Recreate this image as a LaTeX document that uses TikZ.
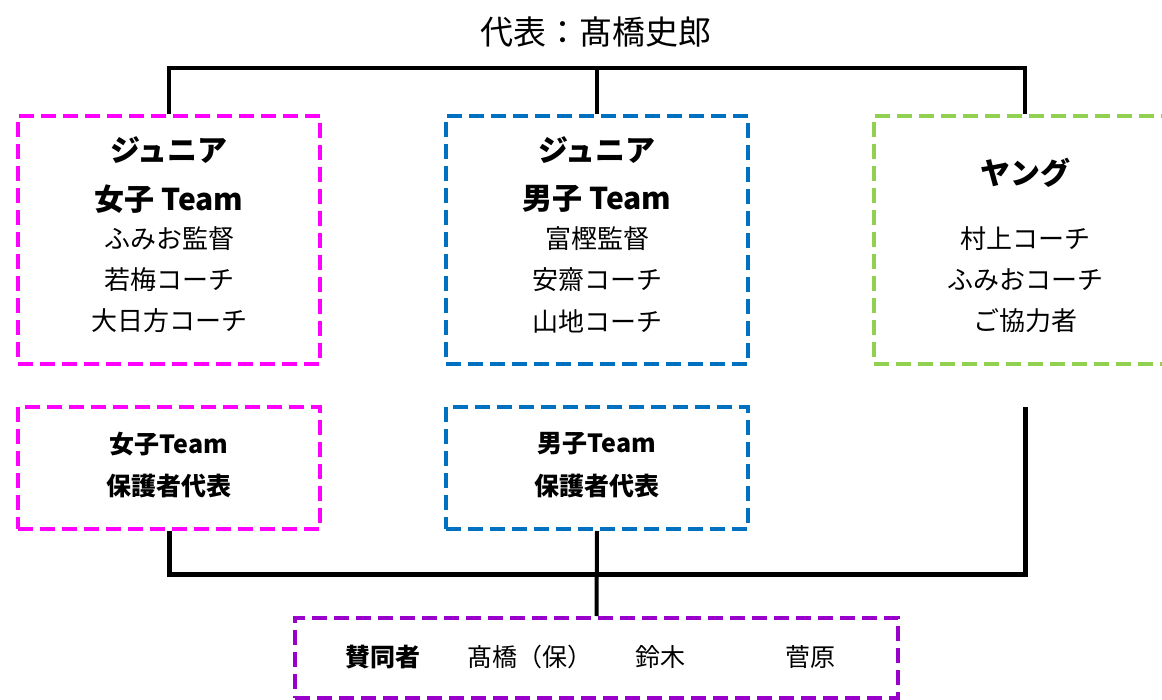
\documentclass[tikz,border=0pt]{standalone}
\usepackage{fontspec}
\setmainfont{Noto Sans CJK JP}

\definecolor{girlpink}{HTML}{FF00FF}
\definecolor{boyblue}{HTML}{0070C0}
\definecolor{younggreen}{HTML}{92D050}
\definecolor{backpurple}{HTML}{9900CC}

\tikzset{
    team/.style={draw=#1, line width=2pt, dash pattern=on 7.5pt off 3.5pt,
        minimum width=151pt, minimum height=124pt, inner sep=0pt},
    parents/.style={team=#1, minimum height=61pt},
    head/.style={font=\bfseries\fontsize{15pt}{18pt}\selectfont, inner sep=0pt},
    staff/.style={font=\fontsize{13pt}{16pt}\selectfont, inner sep=0pt},
    small/.style={font=\bfseries\fontsize{12.5pt}{15pt}\selectfont, inner sep=0pt},
    link/.style={line width=2pt},
}

\begin{document}
\begin{tikzpicture}[x=0.5pt, y=-0.5pt]
            \useasboundingbox (0, 0) rectangle (1162, 700);
            \node[font=\fontsize{16.5pt}{20pt}\selectfont, inner sep=0pt] (rep) at (596, 32) {代表：髙橋史郎};
            % upper boxes
            \node[team=girlpink] (jg) at (169, 240) {};
            \node[team=boyblue] (jb) at (597, 240) {};
            \node[team=younggreen] (yg) at (1025, 240) {};
            \node[head] (jgh1) at (169, 150) {ジュニア};
            \node[head] (jgh2) at (169, 199) {女子 Team};
            \node[head] (jbh1) at (597, 150) {ジュニア};
            \node[head] (jbh2) at (597, 199) {男子 Team};
            \node[head] (ygh) at (1025, 173) {ヤング};
            \foreach \who [count=\i] in {ふみお監督, 若梅コーチ, 大日方コーチ} {
                \node[staff] (jgs\i) at (169, 198 + 41*\i) {\who};
            }
            \foreach \who [count=\i] in {富樫監督, 安齋コーチ, 山地コーチ} {
                \node[staff] (jbs\i) at (597, 198 + 41*\i) {\who};
            }
            \foreach \who [count=\i] in {村上コーチ, ふみおコーチ, ご協力者} {
                \node[staff] (ygs\i) at (1025, 198 + 41*\i) {\who};
            }
            % parents
            \node[parents=girlpink] (pg) at (169, 468) {};
            \node[parents=boyblue] (pb) at (597, 468) {};
            \node[small] (pgt1) at (169, 444) {女子Team};
            \node[small] (pgt2) at (169, 486) {保護者代表};
            \node[small] (pbt1) at (597, 444) {男子Team};
            \node[small] (pbt2) at (597, 486) {保護者代表};
            % supporters
            \node[team=backpurple, minimum width=301.5pt, minimum height=40pt] (sup) at (596.5, 658) {};
            \node[small] (supt) at (383, 657) {賛同者};
            \node[staff, font=\fontsize{12.5pt}{15pt}\selectfont] (sup1) at (530, 657) {髙橋（保）};
            \node[staff, font=\fontsize{12.5pt}{15pt}\selectfont] (sup2) at (660, 657) {鈴木};
            \node[staff, font=\fontsize{12.5pt}{15pt}\selectfont] (sup3) at (810, 657) {菅原};
            % connectors
            \coordinate (topbus) at (597, 68);
            \coordinate (lowbus) at (597, 574);
            \coordinate (yend) at (1025, 407);
            \draw[link] (jg.north) |- (topbus) -| (yg.north);
            \draw[link] (topbus) -- (jb.north);
            \draw[link, line width=2.5pt] (pg.south) |- (lowbus) -| (yend);
            \draw[link] (pb.south) -- (sup.north);
        \end{tikzpicture}
\end{document}
